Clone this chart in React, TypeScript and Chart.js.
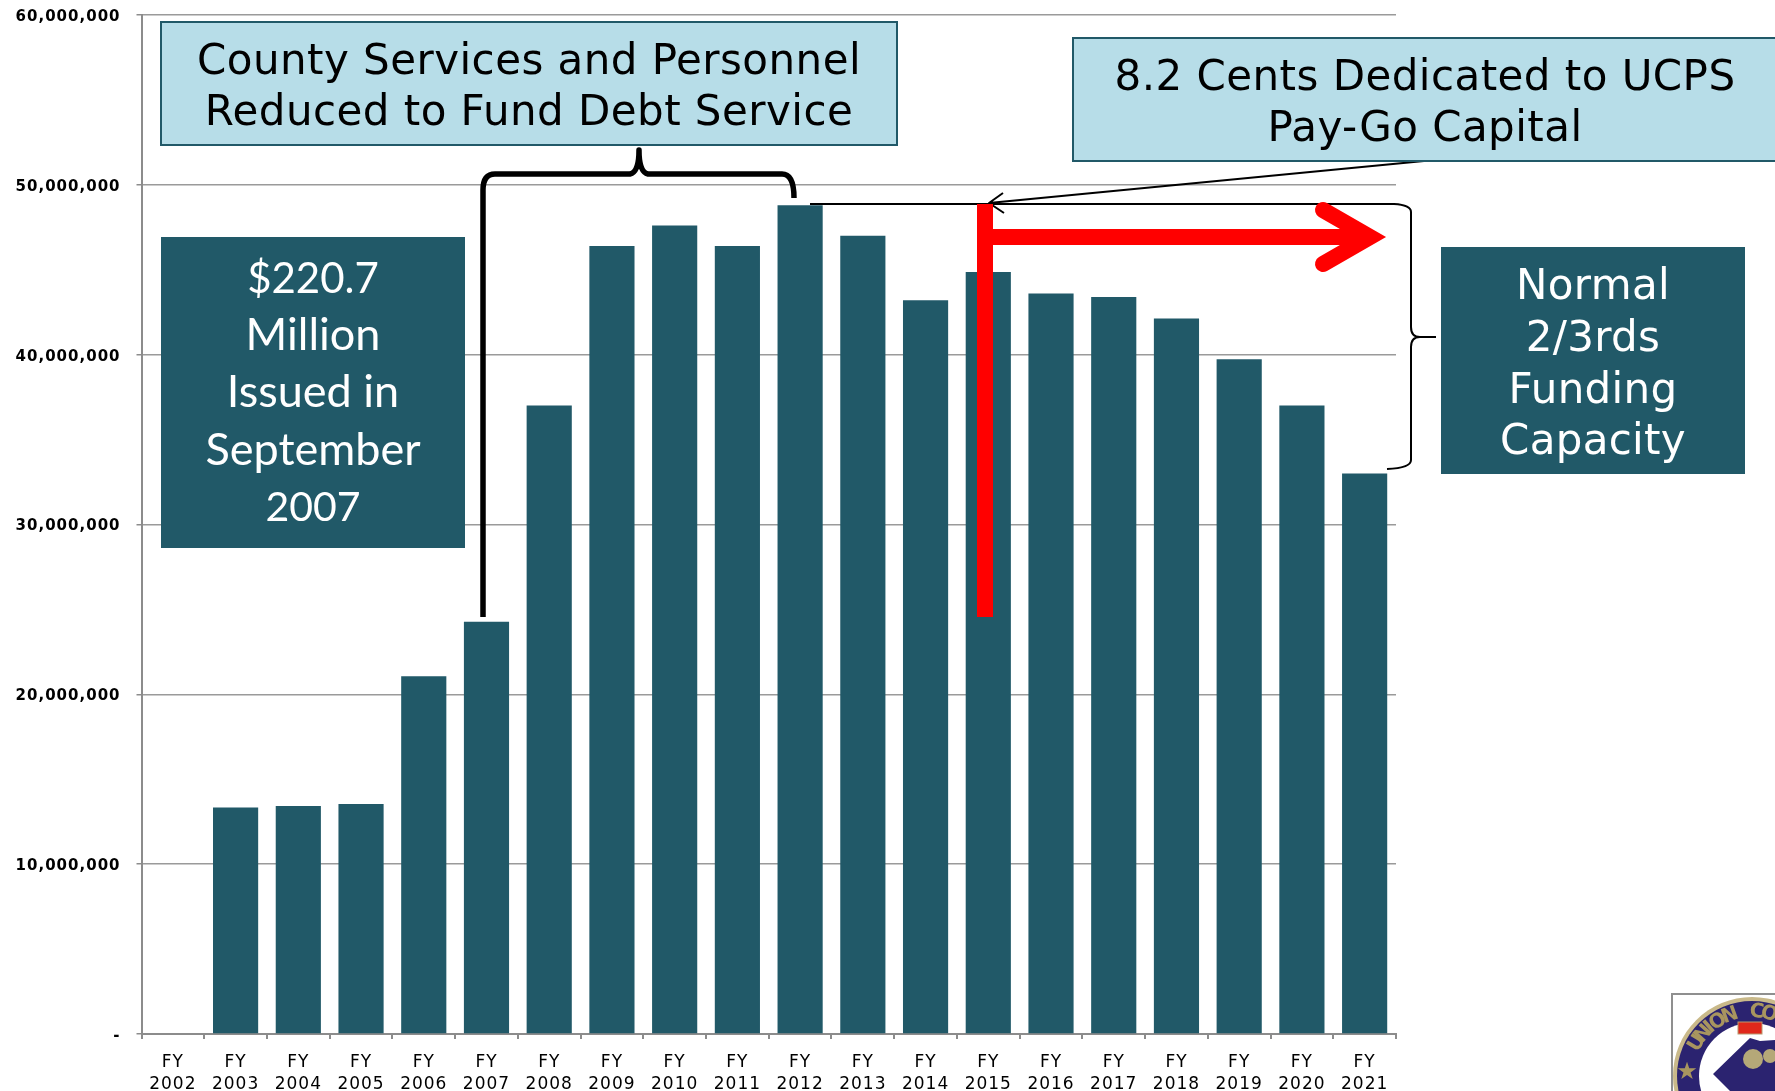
import React, { useEffect, useRef } from "react";
import { Chart, registerables } from "chart.js";

Chart.register(...registerables);

const years = ["2002","2003","2004","2005","2006","2007","2008","2009","2010","2011","2012","2013","2014","2015","2016","2017","2018","2019","2020","2021"];
const categories = years.map((y) => ["FY", y]);
const debtService = [null,13330000,13430000,13550000,21070000,24270000,37000000,46400000,47600000,46400000,48800000,47000000,43200000,44870000,43600000,43400000,42130000,39730000,37000000,33000000];
const yTicks = [0,10000000,20000000,30000000,40000000,50000000,60000000];

const TEAL = "#215968";
const LIGHT = "#b7dde8";
const GRID = "#9a9a9a";
const AXIS = "#8c8c8c";
const VERDANA = '"DejaVu Sans"';

function lines(ctx: CanvasRenderingContext2D, text: string[], x: number, ys: number[], font: string, color: string, spacing = "0px") {
  ctx.save();
  ctx.font = font;
  ctx.fillStyle = color;
  (ctx as any).letterSpacing = spacing;
  ctx.textAlign = "center";
  ctx.textBaseline = "middle";
  text.forEach((t, i) => ctx.fillText(t, x, ys[i]));
  ctx.restore();
}

function box(ctx: CanvasRenderingContext2D, x0: number, y0: number, x1: number, y1: number, fill: string, stroke?: string) {
  ctx.fillStyle = fill;
  ctx.fillRect(x0, y0, x1 - x0, y1 - y0);
  if (stroke) {
    ctx.strokeStyle = stroke;
    ctx.lineWidth = 2;
    ctx.strokeRect(x0, y0, x1 - x0, y1 - y0);
  }
}

function drawLogo(ctx: CanvasRenderingContext2D) {
  ctx.save();
  ctx.strokeStyle = "#8f8f8f";
  ctx.lineWidth = 2;
  ctx.strokeRect(1672, 994, 130, 130);
  const cx = 1752, cy = 1076;
  const circle = (r: number, c: string) => { ctx.fillStyle = c; ctx.beginPath(); ctx.arc(cx, cy, r, 0, Math.PI * 2); ctx.fill(); };
  circle(79, "#c9b98a");
  circle(75, "#2b2370");
  circle(53, "#ffffff");
  ctx.fillStyle = "#2b2370";
  ctx.beginPath();
  ctx.moveTo(1713, 1074); ctx.lineTo(1750, 1038); ctx.lineTo(1760, 1041); ctx.lineTo(1775, 1040);
  ctx.lineTo(1775, 1091); ctx.lineTo(1730, 1091); ctx.closePath();
  ctx.fill();
  ctx.fillStyle = "#e0281c";
  ctx.fillRect(1738, 1022, 24, 12);
  ctx.strokeStyle = "#b89a70"; ctx.lineWidth = 1; ctx.strokeRect(1738, 1022, 24, 12);
  const gold = "#a8955f";
  ctx.fillStyle = gold;
  ctx.font = 'bold 20px "DejaVu Sans"';
  ctx.textAlign = "center"; ctx.textBaseline = "middle";
  const letters: [string, number][] = [["U",-59],["N",-49],["I",-41],["O",-32],["N",-20],["C",4.5],["O",15.5]];
  letters.forEach(([l, a]) => {
    const r = (a * Math.PI) / 180;
    ctx.save();
    ctx.translate(cx + Math.sin(r) * 64, cy - Math.cos(r) * 64);
    ctx.rotate(r);
    ctx.fillText(l, 0, 0);
    ctx.restore();
  });
  ctx.font = "24px 'DejaVu Sans'";
  ctx.fillText("★", 1687, 1073);
  ctx.fillStyle = "#b5a878";
  ctx.beginPath(); ctx.arc(1753, 1059, 10, 0, Math.PI * 2); ctx.fill();
  ctx.beginPath(); ctx.arc(1770, 1056, 7, 0, Math.PI * 2); ctx.fill();
  ctx.restore();
}

const annotations = {
  id: "annotations",
  beforeDraw(chart: any) {
    chart.ctx.letterSpacing = "1px";
  },
  afterDatasetsDraw(chart: any) {
    const ctx: CanvasRenderingContext2D = chart.ctx;
    ctx.save();
    (ctx as any).letterSpacing = "0px";
    ctx.lineCap = "butt";
    ctx.lineJoin = "round";

    // thick bracket over the debt-service years
    ctx.strokeStyle = "#000000";
    ctx.lineWidth = 5.5;
    ctx.beginPath();
    ctx.moveTo(483, 617);
    ctx.lineTo(483, 190);
    ctx.quadraticCurveTo(483, 174, 495, 174);
    ctx.lineTo(630, 174);
    ctx.quadraticCurveTo(639, 172, 639, 150);
    ctx.quadraticCurveTo(639, 172, 648, 174);
    ctx.lineTo(782, 174);
    ctx.quadraticCurveTo(794, 174, 794, 198);
    ctx.stroke();

    // thin line and brace on the right
    ctx.lineWidth = 2;
    ctx.beginPath();
    ctx.moveTo(810, 204);
    ctx.lineTo(1394, 204);
    ctx.quadraticCurveTo(1411, 205, 1411, 212);
    ctx.lineTo(1411, 327);
    ctx.quadraticCurveTo(1411, 337, 1420, 337);
    ctx.lineTo(1436, 337);
    ctx.moveTo(1420, 337);
    ctx.quadraticCurveTo(1411, 337, 1411, 347);
    ctx.lineTo(1411, 460);
    ctx.quadraticCurveTo(1411, 468, 1387, 469);
    ctx.stroke();

    // callout line with open arrow head
    ctx.beginPath();
    ctx.moveTo(1424, 161);
    ctx.lineTo(989, 203);
    ctx.moveTo(1003, 193);
    ctx.lineTo(989, 203);
    ctx.lineTo(1004, 213);
    ctx.stroke();

    // red arrow
    ctx.fillStyle = "#ff0000";
    ctx.fillRect(977, 204, 16, 413);
    ctx.fillRect(993, 229, 375, 16);
    ctx.strokeStyle = "#ff0000";
    ctx.lineWidth = 16;
    ctx.lineCap = "round";
    ctx.lineJoin = "miter";
    ctx.miterLimit = 10;
    ctx.beginPath();
    ctx.moveTo(1323, 210);
    ctx.lineTo(1370, 237);
    ctx.lineTo(1323, 264);
    ctx.stroke();

    // boxes and text
    box(ctx, 161, 22, 897, 145, LIGHT, TEAL);
    lines(ctx, ["County Services and Personnel", "Reduced to Fund Debt Service"], 529, [63, 114], `42px ${VERDANA}`, "#000000", "0.45px");

    box(ctx, 1073, 38, 1777, 161, LIGHT, TEAL);
    lines(ctx, ["8.2 Cents Dedicated to UCPS", "Pay-Go Capital"], 1425, [79, 130], `42px ${VERDANA}`, "#000000", "0.45px");

    box(ctx, 161, 237, 465, 548, TEAL);
    lines(ctx, ["$220.7"], 313, [279], "42px Lato", "#ffffff");
    lines(ctx, ["Million", "Issued in", "September"], 313, [335, 392, 450], "45px Lato", "#ffffff");
    lines(ctx, ["2007"], 313, [508], "41px Lato", "#ffffff");

    box(ctx, 1441, 247, 1745, 474, TEAL);
    lines(ctx, ["Normal", "2/3rds", "Funding", "Capacity"], 1593, [288, 340, 392, 443], `42px ${VERDANA}`, "#ffffff", "0.3px");

    drawLogo(ctx);
    ctx.restore();
    (ctx as any).letterSpacing = "1px";
  },
};

export default function App() {
  const ref = useRef<HTMLCanvasElement>(null);
  useEffect(() => {
    const chart = new Chart(ref.current!, {
      type: "bar",
      data: {
        labels: categories,
        datasets: [{ data: debtService, backgroundColor: TEAL, categoryPercentage: 1, barPercentage: 0.72 }],
      },
      plugins: [annotations],
      options: {
        animation: false,
        responsive: false,
        layout: { padding: { top: 15, right: 379, left: 0, bottom: 0 } },
        plugins: { legend: { display: false }, title: { display: false }, tooltip: { enabled: false } },
        scales: {
          x: {
            afterFit(s: any) { s.height = 57; },
            grid: { offset: true, drawOnChartArea: false, drawTicks: true, tickLength: 5, tickColor: AXIS, lineWidth: 2 },
            border: { color: AXIS, width: 2 },
            ticks: {
              autoSkip: false, maxRotation: 0, minRotation: 0, padding: 12, color: "#000000",
              font: { family: VERDANA, size: 17, lineHeight: 1.33 },
            },
          },
          y: {
            min: 0,
            max: 60000000,
            afterFit(s: any) {
              s.width = 141.5; s.paddingTop = 0; s.paddingBottom = 0;
              if (!s.__shifted) {
                s.__shifted = true;
                const orig = s._computeLabelItems;
                s._computeLabelItems = (area: any) =>
                  orig.call(s, area).map((it: any) => ({
                    ...it,
                    options: { ...it.options, translation: [it.options.translation[0], it.options.translation[1] + 2] },
                  }));
              }
            },
            afterBuildTicks(s: any) { s.ticks = yTicks.map((value) => ({ value })); },
            grid: { color: GRID, lineWidth: 1.5, tickLength: 5, tickColor: AXIS },
            border: { color: AXIS, width: 2 },
            ticks: {
              padding: 16, color: "#000000",
              font: { family: VERDANA, size: 15, weight: "bold" },
              callback: (v: any) => (v === 0 ? "-" : Number(v).toLocaleString("en-US")),
            },
          },
        },
      },
    } as any);
    return () => chart.destroy();
  }, []);
  return (
    <div style={{ position: "absolute", left: 0, top: 0, width: 1775, height: 1091, overflow: "hidden", background: "#ffffff" }}>
      <canvas ref={ref} width={1775} height={1091} style={{ display: "block" }} />
    </div>
  );
}
